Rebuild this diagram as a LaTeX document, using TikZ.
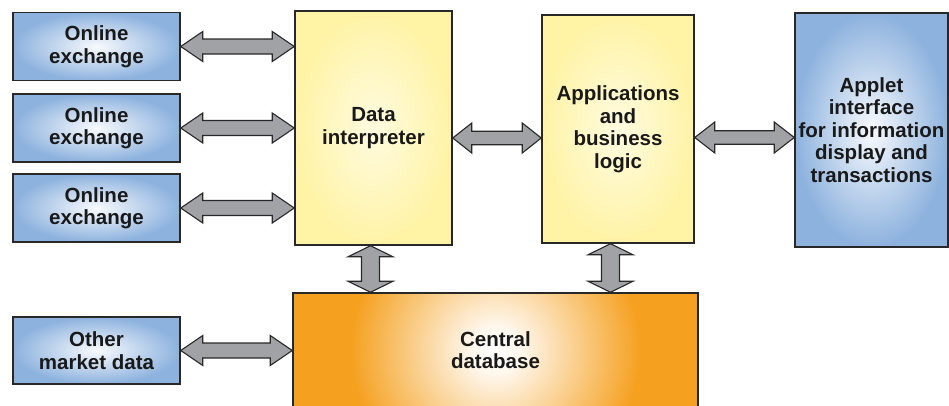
\documentclass[tikz,border=0pt]{standalone}
\usepackage{fontspec}
\setmainfont{Liberation Sans}
\usepackage{tikz}
\usetikzlibrary{calc}

\definecolor{exblue}{RGB}{141,178,222}
\definecolor{procyel}{RGB}{255,243,166}
\definecolor{dborange}{RGB}{245,160,30}
\definecolor{arrgray}{RGB}{161,162,166}
\definecolor{edgegray}{RGB}{40,40,40}

\pgfdeclareradialshading{dbglow}{\pgfpointorigin}{color(0bp)=(white); color(3bp)=(dborange!8!white); color(18bp)=(dborange); color(50bp)=(dborange)}

\newcommand{\twoway}[5]{% from, to, head length, head half width, shaft half width
  \coordinate (tw1) at ($(#1)!#3!(#2)$);
  \coordinate (tw2) at ($(#2)!#3!(#1)$);
  \draw[twoarrow] (#1) -- ($(tw1)!#4!90:(#2)$) -- ($(tw1)!#5!90:(#2)$)
    -- ($(tw2)!#5!-90:(#1)$) -- ($(tw2)!#4!-90:(#1)$) -- (#2)
    -- ($(tw2)!#4!90:(#1)$) -- ($(tw2)!#5!90:(#1)$)
    -- ($(tw1)!#5!-90:(#2)$) -- ($(tw1)!#4!-90:(#2)$) -- cycle;}

\begin{document}
\begin{tikzpicture}[x=1pt,y=-1pt,
  box/.style={draw=edgegray, line width=1.5pt, inner sep=0pt, align=center,
    text=black!90, font=\fontsize{20.5}{22.5}\selectfont\bfseries},
  feedbox/.style={box, minimum width=167pt, minimum height=68pt,
    inner color=exblue!6!white, outer color=exblue},
  procbox/.style={box, inner color=procyel!35!white, outer color=procyel},
  dbbox/.style={box, fill=dborange,
    path picture={\shade[shading=dbglow] (path picture bounding box.center) circle (200pt);}},
  twoarrow/.style={fill=arrgray, draw=edgegray, line width=1.1pt}]
\clip (0,0) rectangle (949,405);

% sources on the left
\node[feedbox] (ex1) at (96.5,46.5) {Online\\exchange};
\node[feedbox] (ex2) at (96.5,128) {Online\\exchange};
\node[feedbox] (ex3) at (96.5,208) {Online\\exchange};
\node[feedbox, minimum height=67pt] (other) at (96.5,350.5) {Other\\market data};

% processing
\node[procbox, minimum width=157pt, minimum height=234pt] (interp) at (373.5,128) {Data\\interpreter};
\node[procbox, minimum width=152pt, minimum height=228pt] (apps) at (618,129) {Applications\\and\\business\\logic};
\node[feedbox, minimum width=153pt, minimum height=234pt] (applet) at (871.5,130)
  {Applet\\interface\\for information\\display and\\transactions};
\node[dbbox, minimum width=405pt, minimum height=114pt] (db) at (495.5,350) {Central\\database};

% connectors
\coordinate (in1) at (interp.west |- ex1.east);
\coordinate (in2) at (interp.west |- ex2.east);
\coordinate (in3) at (interp.west |- ex3.east);
\coordinate (dbw) at (db.west |- other.east);
\coordinate (ia) at ([yshift=-10pt]interp.east);
\coordinate (ai) at (apps.west |- ia);
\coordinate (ap) at ([yshift=-8.5pt]apps.east);
\coordinate (pa) at (applet.west |- ap);
\coordinate (iv) at ([xshift=-3pt]interp.south);
\coordinate (di) at (db.north -| iv);
\coordinate (av) at ([xshift=-7.5pt]apps.south);
\coordinate (da) at (db.north -| av);

\twoway{ex1.east}{in1}{22pt}{15pt}{7.5pt}
\twoway{ex2.east}{in2}{22pt}{15pt}{7.5pt}
\twoway{ex3.east}{in3}{22pt}{15pt}{7.5pt}
\twoway{other.east}{dbw}{22pt}{15pt}{7.5pt}
\twoway{ia}{ai}{19pt}{15pt}{6.75pt}
\twoway{ap}{pa}{20pt}{15.5pt}{6.75pt}
\twoway{iv}{di}{11pt}{22.5pt}{9pt}
\twoway{av}{da}{11pt}{22.5pt}{9pt}
\end{tikzpicture}
\end{document}
